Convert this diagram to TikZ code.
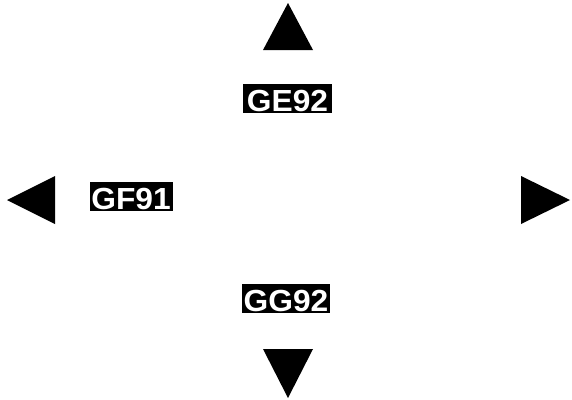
\documentclass[tikz,border=0pt]{standalone}
\usepackage{fontspec}
\setmainfont{Liberation Sans}
\newfontfamily\lblfont[FakeStretch=1.04]{Liberation Sans}
\begin{document}
\begin{tikzpicture}[x=1pt,y=-1pt,
  lbl/.style={fill=black,text=white,font=\lblfont\fontsize{30.5}{30.5}\selectfont\bfseries,inner xsep=0pt,inner ysep=0pt,text height=27.5pt,text depth=1.5pt},
  tri/.style={fill=black,draw=none}]
\useasboundingbox (0,0) rectangle (572,399);
\fill[white] (0,0) rectangle (572,399);
\node[lbl,minimum width=89pt] (ge) at (287.5,98.5) {GE92};
\node[lbl,minimum width=83pt] (gf) at (131,196.5) {GF91};
\node[lbl,minimum width=88pt] (gg) at (286,298) {GG92};
\coordinate (tu) at (288,3);
\coordinate (td) at (288,398);
\coordinate (tl) at (7,200);
\coordinate (tr) at (570,200);
\fill[tri] (tu) -- (313,50) -- (263,50) -- cycle;
\fill[tri] (td) -- (313,349) -- (263,349) -- cycle;
\fill[tri] (tl) -- (55,176) -- (55,224) -- cycle;
\fill[tri] (tr) -- (521,176) -- (521,224) -- cycle;
\end{tikzpicture}
\end{document}
